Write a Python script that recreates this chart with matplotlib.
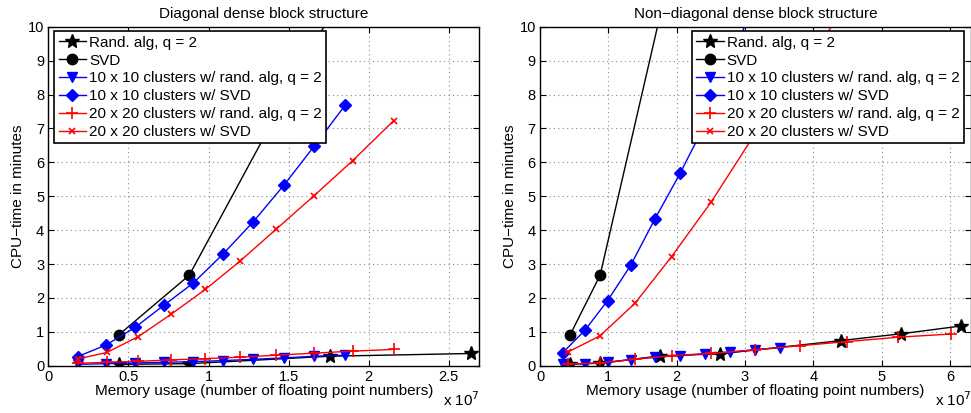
import matplotlib
matplotlib.use('Agg')
import matplotlib.pyplot as plt

plt.rcParams['font.family'] = ['Liberation Sans', 'DejaVu Sans']
plt.rcParams['font.size'] = 10.5

# ---- Diagonal dense block structure (x in units of 1e7) ----
d_rand_x = [0.44, 0.88, 1.76, 2.64]
d_rand_y = [0.04, 0.06, 0.28, 0.36]
d_svd_x = [0.44, 0.88, 1.76]
d_svd_y = [0.91, 2.67, 10.35]
d_c10_x = [0.184, 0.36, 0.542, 0.723, 0.903, 1.09, 1.28, 1.473, 1.66, 1.854]
d_c10_rand_y = [0.04, 0.06, 0.08, 0.10, 0.12, 0.15, 0.19, 0.23, 0.28, 0.31]
d_c10_svd_y = [0.27, 0.61, 1.13, 1.79, 2.43, 3.29, 4.25, 5.34, 6.48, 7.69]
d_c20_x = [0.184, 0.365, 0.5625, 0.767, 0.98, 1.198, 1.423, 1.66, 1.90, 2.156]
d_c20_rand_y = [0.07, 0.10, 0.13, 0.17, 0.21, 0.25, 0.31, 0.37, 0.43, 0.48]
d_c20_svd_y = [0.20, 0.39, 0.86, 1.52, 2.25, 3.09, 4.03, 5.02, 6.05, 7.23]

# ---- Non-diagonal dense block structure ----
n_rand_x = [0.44, 0.88, 1.76, 2.64, 4.40, 5.28, 6.16]
n_rand_y = [0.05, 0.07, 0.29, 0.35, 0.74, 0.94, 1.17]
n_svd_x = [0.44, 0.88, 1.76]
n_svd_y = [0.905, 2.67, 10.35]
n_c10_x = [0.332, 0.659, 0.99, 1.33, 1.68, 2.05, 2.41, 2.78, 3.15, 3.51]
n_c10_rand_y = [0.04, 0.06, 0.10, 0.18, 0.25, 0.30, 0.35, 0.40, 0.47, 0.53]
n_c10_svd_x = [0.332, 0.659, 0.99, 1.33, 1.68, 2.05, 2.41, 2.78, 3.15]
n_c10_svd_y = [0.38, 1.05, 1.92, 2.97, 4.32, 5.67, 7.1, 8.8, 10.9]
n_c20_x = [0.415, 0.878, 1.39, 1.927, 2.51, 3.15, 3.81, 4.49, 5.24, 6.02]
n_c20_rand_y = [0.05, 0.08, 0.19, 0.30, 0.36, 0.47, 0.59, 0.71, 0.84, 0.935]
n_c20_svd_x = [0.415, 0.878, 1.39, 1.927, 2.51, 3.15, 3.81, 4.49]
n_c20_svd_y = [0.41, 0.88, 1.84, 3.22, 4.84, 6.85, 8.75, 10.6]

labels = ['Rand. alg, q = 2', 'SVD',
          '10 x 10 clusters w/ rand. alg, q = 2', '10 x 10 clusters w/ SVD',
          '20 x 20 clusters w/ rand. alg, q = 2', '20 x 20 clusters w/ SVD']

fig = plt.figure(figsize=(9.71, 4.13), dpi=100)
W, H = 971.0, 413.0
ax1 = fig.add_axes([48.3 / W, 1 - 365.7 / H, 431 / W, 339 / H])
ax2 = fig.add_axes([540 / W, 1 - 365.7 / H, 431 / W, 339 / H])


def draw(ax, rx, ry, sx, sy, c10x, c10ry, c10sx, c10sy, c20x, c20ry, c20sx, c20sy):
    lw = 1.0
    ax.plot(rx, ry, 'k-*', lw=lw, ms=10, label=labels[0])
    ax.plot(sx, sy, 'k-o', lw=lw, ms=7.5, label=labels[1])
    ax.plot(c10x, c10ry, 'b-v', lw=lw, ms=7.5, label=labels[2])
    ax.plot(c10sx, c10sy, 'b-D', lw=lw, ms=6.5, label=labels[3])
    ax.plot(c20x, c20ry, 'r-+', lw=lw, ms=8.5, mew=1.2, label=labels[4])
    ax.plot(c20sx, c20sy, 'r-x', lw=lw, ms=4.5, mew=1.2, label=labels[5])
    ax.set_ylim(0, 10)
    ax.set_yticks(range(0, 11))
    ax.grid(True, linestyle=(0, (1, 3)), color='#888888', linewidth=0.8)
    ax.tick_params(direction='in', top=True, right=True, length=4, width=0.8, labelsize=10.5, pad=3)
    for s in ax.spines.values():
        s.set_linewidth(1.0)
    ax.set_xlabel('Memory usage (number of floating point numbers)', fontsize=11, labelpad=0)
    ax.set_ylabel('CPU\u2212time in minutes', fontsize=11, labelpad=2)


draw(ax1, d_rand_x, d_rand_y, d_svd_x, d_svd_y,
     d_c10_x, d_c10_rand_y, d_c10_x, d_c10_svd_y,
     d_c20_x, d_c20_rand_y, d_c20_x, d_c20_svd_y)
draw(ax2, n_rand_x, n_rand_y, n_svd_x, n_svd_y,
     n_c10_x, n_c10_rand_y, n_c10_svd_x, n_c10_svd_y,
     n_c20_x, n_c20_rand_y, n_c20_svd_x, n_c20_svd_y)

ax1.set_xlim(0, 2.69)
ax1.set_xticks([0, 0.5, 1, 1.5, 2, 2.5])
ax1.set_xticklabels(['0', '0.5', '1', '1.5', '2', '2.5'])
ax2.set_xlim(0, 6.31)
ax2.set_xticks(range(0, 7))

ax1.set_title('Diagonal dense block structure', fontsize=11, pad=6)
ax2.set_title('Non\u2212diagonal dense block structure', fontsize=11, pad=6)

for ax, x0 in [(ax1, 54), (ax2, 691.5)]:
    bb = ax.get_position()
    lx = (x0 / W - bb.x0) / bb.width
    ax.legend(loc='upper left', bbox_to_anchor=(lx, 1 - 4.5 / 339), fontsize=11,
              fancybox=False, framealpha=1, edgecolor='black', borderpad=0.3,
              labelspacing=0.25, handlelength=1.8, handletextpad=0.2, borderaxespad=0)
    ax.get_legend().get_frame().set_linewidth(1.2)

fig.text(443 / W, 1 - 406 / H, r'x 10$^7$', fontsize=11)
fig.text(935 / W, 1 - 406 / H, r'x 10$^7$', fontsize=11)

plt.savefig('out.png', dpi=100)
